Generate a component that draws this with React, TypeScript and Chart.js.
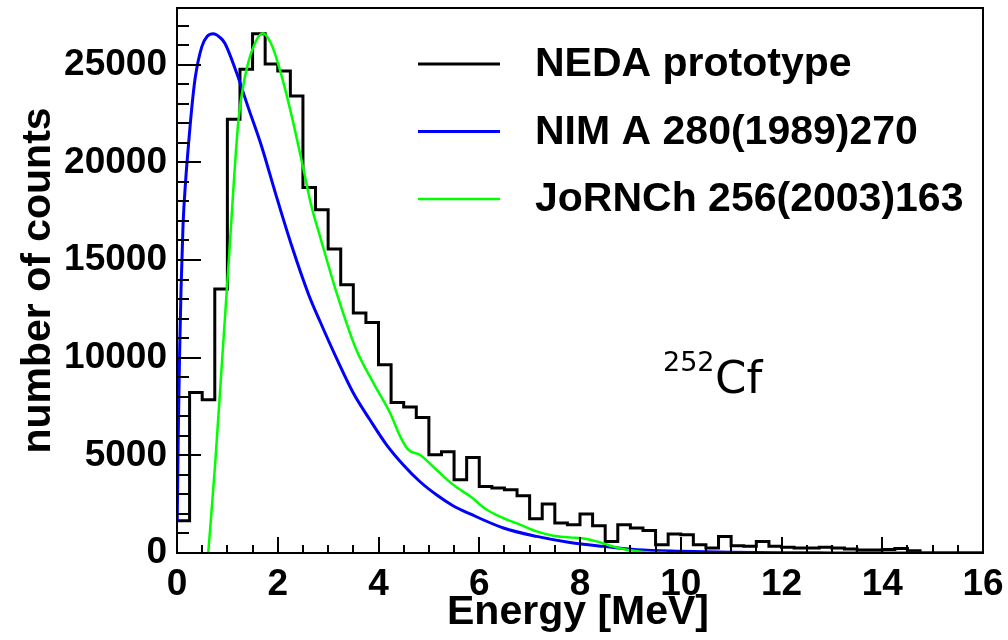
import React, { useEffect, useRef } from 'react';
import { Chart, registerables } from 'chart.js';

Chart.register(...registerables);

// ---------- data ----------
const BIN_WIDTH = 0.25; // MeV
const NEDA_COUNTS = [
  1650, 8220, 7850, 13510, 22210, 24770, 26580, 25030, 24680, 23400,
  18710, 17570, 15560, 13730, 12280, 11800, 9640, 7710, 7470, 6940,
  5030, 5180, 3750, 4890, 3410, 3330, 3240, 2930, 1755, 2510,
  1535, 1450, 2000, 1400, 595, 1450, 1280, 1150, 425, 970,
  935, 425, 255, 850, 375, 340, 595, 340, 290, 255,
  250, 300, 260, 200, 150, 150, 180, 230, 120, 0,
  0, 0, 0, 0,
];

const NIM_ENERGY = [
  0.005, 0.025, 0.05, 0.08, 0.12, 0.17, 0.225, 0.29, 0.36, 0.49,
  0.6, 0.72, 0.85, 0.95, 1.185, 1.415, 1.68, 1.945, 2.28, 2.61,
  2.84, 3.17, 3.5, 3.83, 4.16, 4.49, 4.82, 5.15, 5.48, 5.82,
  6.48, 7.14, 7.8, 8.46, 9.13, 10, 11, 12, 13, 14, 16,
];
const NIM_COUNTS = [
  1650, 6000, 10000, 13500, 16800, 19000, 20800, 22700, 24300, 25900,
  26450, 26580, 26400, 26100, 24570, 22800, 20810, 18500, 15700, 13250,
  11850, 9950, 8190, 6820, 5540, 4520, 3660, 2980, 2420, 2000,
  1280, 850, 540, 340, 170, 90, 40, 15, 5, 0, 0,
];

const JORNCH_ENERGY = [
  0.62, 0.754, 0.887, 1.02, 1.22, 1.35, 1.52, 1.7, 1.88, 2.08,
  2.28, 2.47, 2.67, 2.84, 3.17, 3.56, 3.9, 4.23, 4.43, 4.59,
  4.82, 5.15, 5.48, 5.82, 6.15, 6.48, 6.81, 7.14, 7.47, 7.8,
  8.13, 8.33, 8.6, 8.93, 9.4, 9.73,
];
const JORNCH_COUNTS = [
  0, 4430, 9550, 14670, 22170, 24390, 25930, 26610, 26010, 24390,
  22340, 20130, 17740, 16200, 13300, 10400, 8700, 7165, 5970, 5290,
  5030, 4260, 3500, 2900, 2215, 1790, 1450, 1105, 885, 800,
  715, 595, 375, 170, 30, 0,
];

const X_TICKS = [0, 2, 4, 6, 8, 10, 12, 14, 16];
const Y_TICKS = [0, 5000, 10000, 15000, 20000, 25000];
const X_MINOR_STEP = 0.5;
const Y_MINOR_STEP = 1000;
const X_MIN = 0;
const X_MAX = 16;
const Y_MIN = 0;
const Y_MAX = 27900;

const SERIES_LABELS = ['NEDA prototype', 'NIM A 280(1989)270', 'JoRNCh 256(2003)163'];
const SERIES_COLORS = ['#000000', '#0000ff', '#00ff00'];
const X_TITLE = 'Energy [MeV]';
const Y_TITLE = 'number of counts';
const ISOTOPE_MASS = '252';
const ISOTOPE_SYMBOL = 'Cf';

// ---------- styling ----------
const BOLD = 'bold 41px "Liberation Sans", Arial, sans-serif';
const TICK_FONT = { family: '"Liberation Sans", Arial, sans-serif', size: 37, weight: 'bold' as const };

const overlayPlugin = {
  id: 'rootOverlay',
  afterDatasetsDraw(chart: any) {
    const { ctx, chartArea: a, scales } = chart;
    const xs = scales.x;
    const ys = scales.y;
    ctx.save();
    ctx.strokeStyle = '#000';
    ctx.lineWidth = 2;
    ctx.beginPath();
    // x-axis ticks (inside)
    const nx = Math.round((X_MAX - X_MIN) / X_MINOR_STEP);
    for (let k = 0; k <= nx; k++) {
      const v = X_MIN + k * X_MINOR_STEP;
      const px = Math.round(xs.getPixelForValue(v));
      const len = X_TICKS.includes(v) ? 16 : 8;
      ctx.moveTo(px, a.bottom);
      ctx.lineTo(px, a.bottom - len);
    }
    // y-axis ticks (inside)
    for (let v = Y_MIN; v <= Y_MAX; v += Y_MINOR_STEP) {
      const py = Math.round(ys.getPixelForValue(v));
      const len = Y_TICKS.includes(v) ? 24 : 12;
      ctx.moveTo(a.left, py);
      ctx.lineTo(a.left + len, py);
    }
    ctx.stroke();
    // frame
    ctx.strokeRect(a.left, a.top, a.right - a.left, a.bottom - a.top);

    // legend
    const legendLineX0 = 418;
    const legendLineX1 = 500;
    const legendTextX = 535;
    const legendY0 = 64;
    const legendDy = 67.5;
    ctx.font = BOLD;
    ctx.textAlign = 'left';
    ctx.textBaseline = 'alphabetic';
    SERIES_LABELS.forEach((label, i) => {
      const yy = legendY0 + i * legendDy;
      ctx.strokeStyle = SERIES_COLORS[i];
      ctx.lineWidth = i === 2 ? 2.5 : 3;
      ctx.beginPath();
      ctx.moveTo(legendLineX0, yy);
      ctx.lineTo(legendLineX1, yy);
      ctx.stroke();
      ctx.fillStyle = '#000';
      ctx.fillText(label, legendTextX, yy + 12);
    });

    // isotope label
    ctx.fillStyle = '#000';
    ctx.font = '27px "DejaVu Sans", sans-serif';
    ctx.fillText(ISOTOPE_MASS, 663, 371);
    ctx.font = '45px "DejaVu Sans", sans-serif';
    ctx.fillText(ISOTOPE_SYMBOL, 715, 393);

    // axis titles
    ctx.font = BOLD;
    ctx.textAlign = 'center';
    ctx.fillText(X_TITLE, (a.left + a.right) / 2 - 2, 624);
    ctx.save();
    ctx.translate(50, (a.top + a.bottom) / 2);
    ctx.rotate(-Math.PI / 2);
    ctx.fillText(Y_TITLE, 0, 0);
    ctx.restore();

    ctx.restore();
  },
};

export default function App() {
  const canvasRef = useRef<HTMLCanvasElement | null>(null);

  useEffect(() => {
    document.body.style.margin = '0';
    const canvas = canvasRef.current;
    if (!canvas) return;

    const histPoints = NEDA_COUNTS.map((v, i) => ({ x: i * BIN_WIDTH, y: v }));
    histPoints.push({ x: NEDA_COUNTS.length * BIN_WIDTH, y: NEDA_COUNTS[NEDA_COUNTS.length - 1] });
    const nimPoints = NIM_ENERGY.map((e, i) => ({ x: e, y: NIM_COUNTS[i] }));
    const jorPoints = JORNCH_ENERGY.map((e, i) => ({ x: e, y: JORNCH_COUNTS[i] }));

    const chart = new Chart(canvas, {
      type: 'line',
      data: {
        datasets: [
          {
            label: SERIES_LABELS[0],
            data: histPoints,
            borderColor: SERIES_COLORS[0],
            borderWidth: 3,
            stepped: 'before',
            pointRadius: 0,
            fill: false,
            order: 3,
          },
          {
            label: SERIES_LABELS[1],
            data: nimPoints,
            borderColor: SERIES_COLORS[1],
            borderWidth: 3,
            cubicInterpolationMode: 'monotone',
            pointRadius: 0,
            fill: false,
            order: 2,
          },
          {
            label: SERIES_LABELS[2],
            data: jorPoints,
            borderColor: SERIES_COLORS[2],
            borderWidth: 2.5,
            cubicInterpolationMode: 'monotone',
            pointRadius: 0,
            fill: false,
            order: 1,
          },
        ],
      },
      options: {
        animation: false,
        responsive: false,
        maintainAspectRatio: false,
        devicePixelRatio: 1,
        layout: { padding: { left: 0, right: 25, top: 8, bottom: 0 } },
        plugins: {
          legend: { display: false },
          tooltip: { enabled: false },
        },
        scales: {
          x: {
            type: 'linear',
            min: X_MIN,
            max: X_MAX,
            grid: { display: false, drawTicks: false },
            border: { display: false },
            ticks: {
              color: '#000',
              font: TICK_FONT,
              padding: 10,
              autoSkip: false,
              maxRotation: 0,
              minRotation: 0,
              callback: (v: any) => String(v),
            },
            afterBuildTicks: (scale: any) => {
              scale.ticks = X_TICKS.map((v) => ({ value: v }));
            },
            afterFit: (scale: any) => {
              scale.height = 87;
              scale.paddingLeft = 0;
              scale.paddingRight = 0;
            },
          },
          y: {
            type: 'linear',
            min: Y_MIN,
            max: Y_MAX,
            grid: { display: false, drawTicks: false },
            border: { display: false },
            ticks: {
              color: '#000',
              font: TICK_FONT,
              padding: 10,
              autoSkip: false,
              callback: (v: any) => String(v),
            },
            afterBuildTicks: (scale: any) => {
              scale.ticks = Y_TICKS.map((v) => ({ value: v }));
            },
            afterFit: (scale: any) => {
              scale.width = 177;
              scale.paddingTop = 0;
              scale.paddingBottom = 0;
            },
          },
        },
      },
      plugins: [overlayPlugin],
    });

    return () => {
      chart.destroy();
    };
  }, []);

  return (
    <div style={{ position: 'absolute', left: 0, top: 0, width: 1008, height: 640, background: '#fff' }}>
      <canvas ref={canvasRef} width={1008} height={640} style={{ width: 1008, height: 640 }} />
    </div>
  );
}
